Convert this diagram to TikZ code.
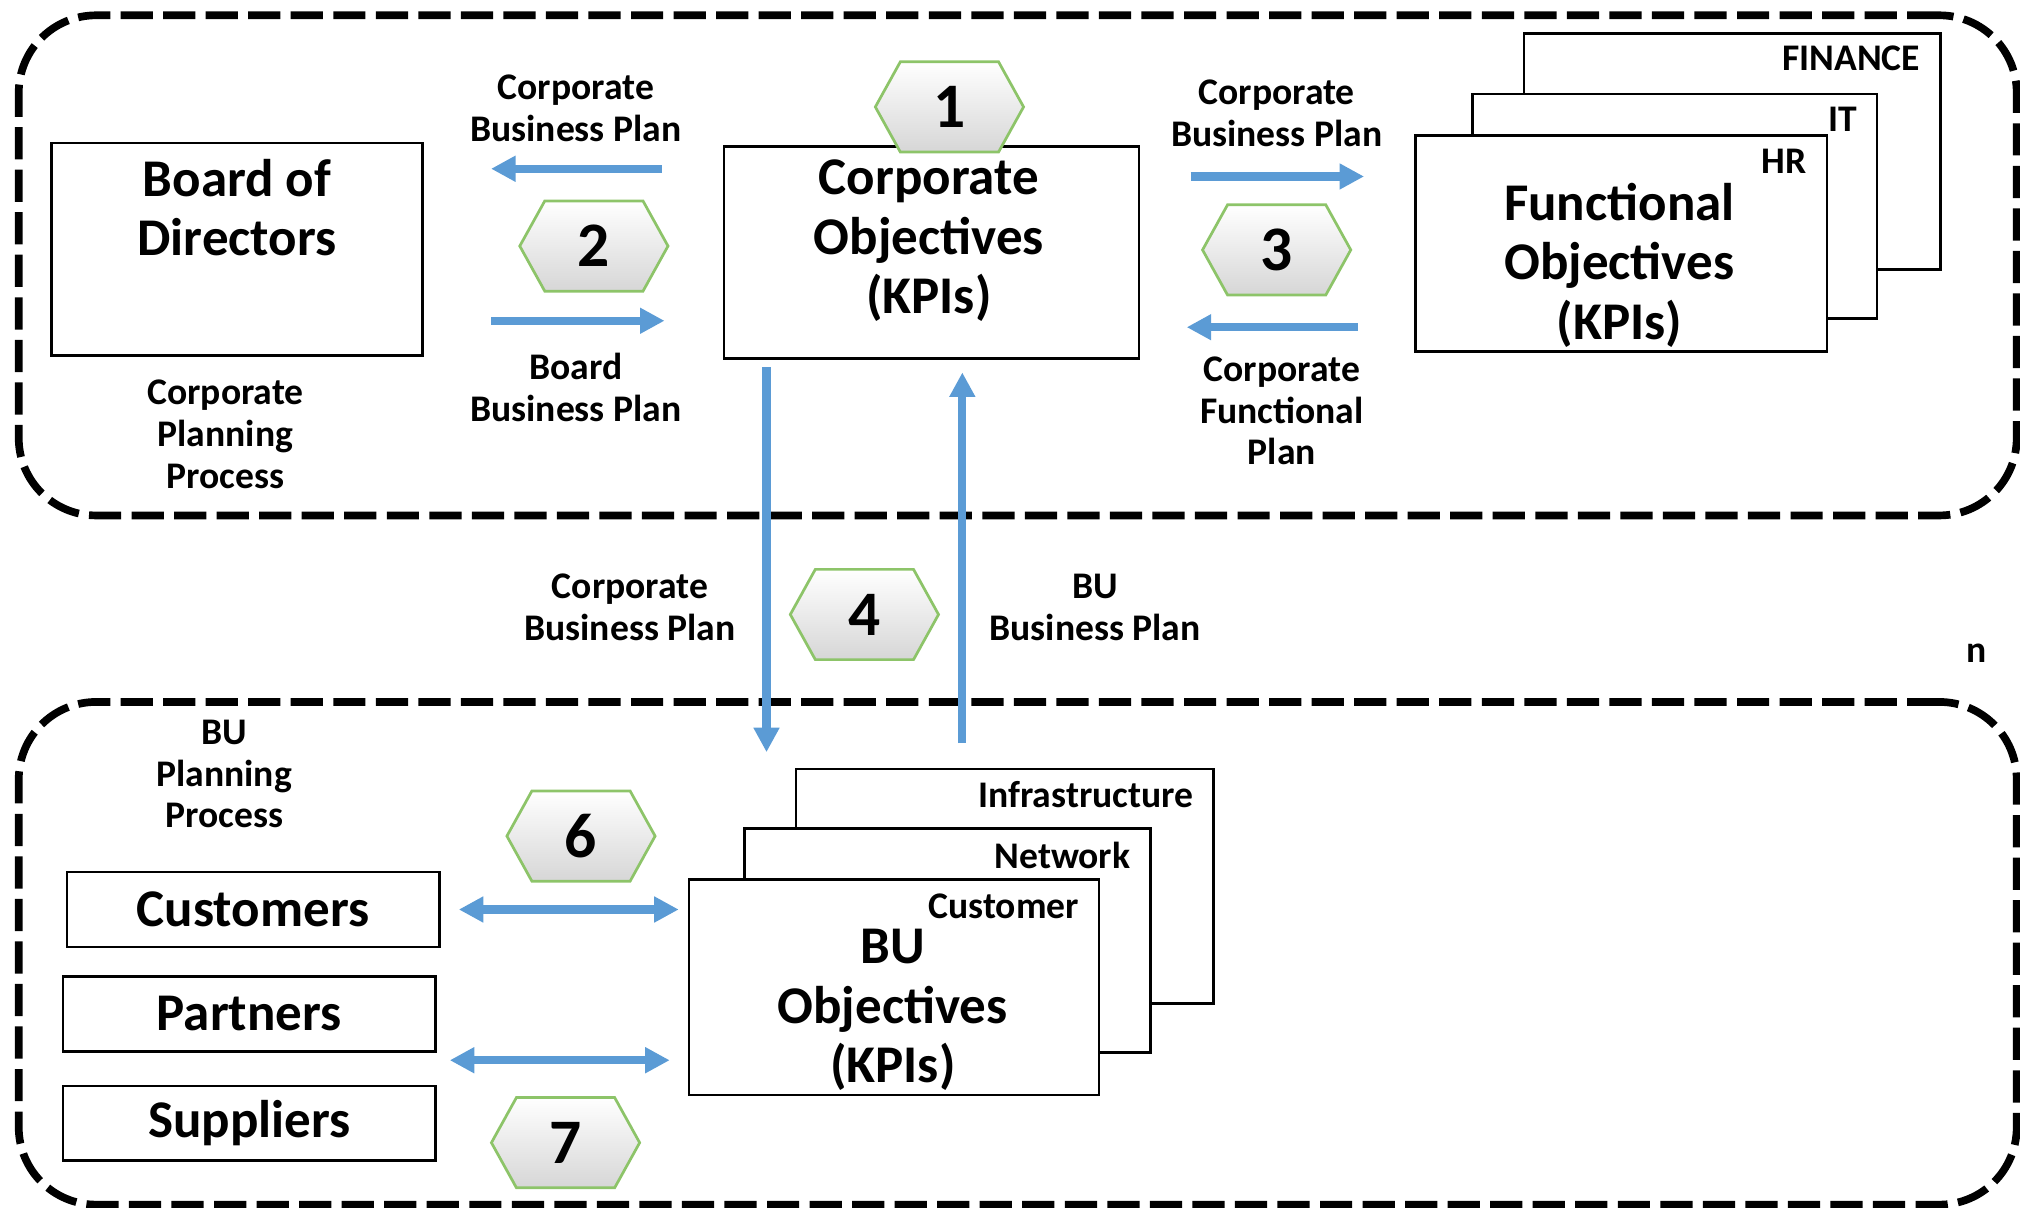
\documentclass[tikz,border=0pt]{standalone}
\usepackage{fontspec}
\setmainfont{Carlito}
\usepackage{tikz}
\usetikzlibrary{arrows.meta,shapes.symbols}
\definecolor{flowblue}{RGB}{91,155,213}
\definecolor{hexgreen}{RGB}{141,196,105}

\begin{document}
\begin{tikzpicture}[x=0.01cm, y=-0.01cm]
\tikzset{box/.style={draw, line width=0.6pt, fill=white, inner sep=0pt},
  bigtxt/.style={font=\fontsize{11.7}{13.1}\selectfont\bfseries, align=center, inner sep=0pt},
  smalltxt/.style={font=\fontsize{8.3}{9.2}\selectfont\bfseries, align=center, inner sep=0pt},
  tabtxt/.style={smalltxt, anchor=east},
  hexnum/.style={shape=signal, signal to=east and west, signal pointer angle=122, draw=hexgreen, line width=0.6pt, top color=white, bottom color=black!16, minimum width=1.15cm, minimum height=0.70cm, inner sep=0pt, font=\fontsize{14}{16}\selectfont\bfseries},
  flow/.style={draw=flowblue, line width=1.8pt, -{Triangle[length=0.19cm,width=0.19cm]}},
  twoway/.style={flow, {Triangle[length=0.19cm,width=0.19cm]}-{Triangle[length=0.19cm,width=0.19cm]}},
  process/.style={draw, dash pattern=on 0.25cm off 0.08cm, line width=1.7pt, rounded corners=0.6cm, inner sep=0pt}}

\useasboundingbox (0,0) rectangle (1568,937);

% planning areas
\node[process, minimum width=15.5cm, minimum height=3.88cm] (corparea) at (790,206) {};
\node[process, minimum width=15.5cm, minimum height=3.90cm] (buarea) at (790,740) {};

% corporate level
\node[box, minimum width=2.88cm, minimum height=1.65cm] (board) at (184,193.5) {};
\node[bigtxt] (boardtxt) at (184,161) {Board of\\Directors};
\node[smalltxt] (corpproc) at (175,337) {Corporate\\Planning\\Process};

\node[box, minimum width=3.22cm, minimum height=1.64cm] (corp) at (723,196) {};
\node[bigtxt] (corptxt) at (721,187) {Corporate\\Objectives\\(KPIs)};

\node[box, minimum width=3.23cm, minimum height=1.83cm] (finance) at (1344.5,117.5) {};
\node[tabtxt] at ([shift={(-16,20)}]finance.north east) {FINANCE};
\node[box, minimum width=3.14cm, minimum height=1.74cm] (it) at (1300,160) {};
\node[tabtxt] at ([shift={(-16,21)}]it.north east) {IT};
\node[box, minimum width=3.19cm, minimum height=1.68cm] (hr) at (1258.5,189) {};
\node[tabtxt] at ([shift={(-16,21)}]hr.north east) {HR};
\node[bigtxt] (functxt) at (1257,206) {Functional\\Objectives\\(KPIs)};

% BU level
\node[smalltxt] (buproc) at (174,601) {BU\\Planning\\Process};
\node[box, minimum width=2.89cm, minimum height=0.58cm, bigtxt] (customers) at (196.5,706) {Customers};
\node[box, minimum width=2.89cm, minimum height=0.58cm, bigtxt] (partners) at (193.5,787) {Partners};
\node[box, minimum width=2.89cm, minimum height=0.58cm, bigtxt] (suppliers) at (193.5,872) {Suppliers};

\node[box, minimum width=3.24cm, minimum height=1.82cm] (infra) at (780,688) {};
\node[tabtxt] at ([shift={(-16,21)}]infra.north east) {Infrastructure};
\node[box, minimum width=3.15cm, minimum height=1.74cm] (network) at (735.5,730) {};
\node[tabtxt] at ([shift={(-16,22)}]network.north east) {Network};
\node[box, minimum width=3.18cm, minimum height=1.67cm] (bucust) at (694,766.5) {};
\node[tabtxt] at ([shift={(-16,22)}]bucust.north east) {Customer};
\node[bigtxt] (butxt) at (693,784) {BU\\Objectives\\(KPIs)};

% steps
\node[hexnum] (s1) at (737,83) {1};
\node[hexnum] (s2) at (461,191) {2};
\node[hexnum] (s3) at (991,194) {3};
\node[hexnum] (s4) at (671,477) {4};
\node[hexnum] (s6) at (451,649) {6};
\node[hexnum] (s7) at (439,887) {7};

% plans
\node[smalltxt] (cbpa) at (447,84) {Corporate\\Business Plan};
\node[smalltxt] (bbp) at (447,300.5) {Board\\Business Plan};
\node[smalltxt] (cbpb) at (991,88) {Corporate\\Business Plan};
\node[smalltxt] (cfp) at (995,319) {Corporate\\Functional\\Plan};
\node[smalltxt] (cbpc) at (489,471.5) {Corporate\\Business Plan};
\node[smalltxt] (bubp) at (850,471.5) {BU\\Business Plan};
\node[smalltxt] (stray) at (1534,507) {n};

\draw[flow, shorten <=0.47cm, shorten >=0.52cm] (corp.west |- 0,131) -- (board.east |- 0,131);
\draw[flow, shorten <=0.52cm, shorten >=0.45cm] (board.east |- 0,249) -- (corp.west |- 0,249);
\draw[flow, shorten <=0.39cm, shorten >=0.39cm] (corp.east |- 0,137) -- (hr.west |- 0,137);
\draw[flow, shorten <=0.44cm, shorten >=0.36cm] (hr.west |- 0,254) -- (corp.east |- 0,254);
\draw[flow, shorten <=0.06cm, shorten >=0.12cm] (595,0 |- corp.south) -- (595,0 |- infra.north);
\draw[flow, shorten <=0.19cm, shorten >=0.10cm] (747,0 |- infra.north) -- (747,0 |- corp.south);
\draw[twoway, shorten <=0.14cm, shorten >=0.07cm] (customers.east) -- (bucust.west |- customers.east);
\draw[twoway, shorten <=0.10cm, shorten >=0.14cm] (partners.east |- 0,823) -- (bucust.west |- 0,823);
\end{tikzpicture}
\end{document}
